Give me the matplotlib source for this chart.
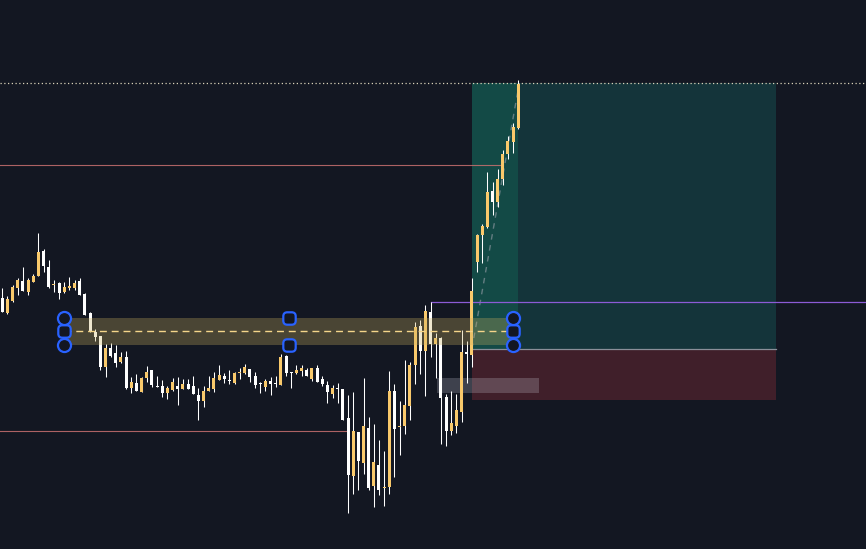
import matplotlib
matplotlib.use("Agg")
import matplotlib.pyplot as plt
import numpy as np
from matplotlib.path import Path
from matplotlib.patches import BoxStyle, Rectangle

# ---------------- data (price units) ----------------
opens = [251.3, 235.7, 248, 260.7, 268, 257.3, 267.3, 273.3, 298, 281.7,
         264, 265.7, 257.3, 261.3, 260.7, 268, 255, 236.3, 217.3, 213,
         182.3, 201.3, 196.3, 187.3, 192.3, 161.3, 165.7, 157.3, 170.7, 179,
         163.3, 163, 156.3, 159, 163, 160, 165, 163, 154, 148,
         158, 160, 169, 173, 169, 166.3, 176.3, 175.7, 179.7, 173,
         165.7, 162.3, 168, 165.7, 164, 193, 176.7, 175.7, 178.3, 179,
         170, 181.3, 170, 164, 155, 161.3, 160, 131.3, 73, 116.7,
         86.3, 121.3, 63, 84, 61, 62.3, 158, 122.3, 123, 143,
         184, 223, 198, 236.7, 204.7, 211.3, 152.3, 118, 123.3, 137.3,
         197.3, 194, 287.3, 314, 322.3, 358, 347.3, 370, 395, 407.3,
         420.7]
highs = [261.3, 253, 264, 271.3, 282, 270.7, 275, 315.7, 300, 289,
         269, 267.3, 267.3, 271.7, 269, 271.3, 256.3, 237.3, 219.7, 213,
         205, 205.7, 204, 197.3, 198, 171.7, 175, 172.3, 183, 179,
         173, 169, 163, 170.7, 172.3, 169.7, 169.7, 173, 160.7, 163,
         173, 177.3, 184, 176.3, 179, 177.3, 180.7, 185, 179.7, 177.3,
         166.7, 169.7, 172.3, 173, 195, 194, 176.7, 184, 184, 181.3,
         181.3, 184, 173, 168.3, 164, 166.3, 160, 154, 156.7, 116.7,
         170.7, 131.7, 124.7, 109, 98, 178, 165, 148, 189, 187.3,
         227.3, 229, 244, 246.7, 215.7, 212.3, 155, 158, 154.7, 219,
         208, 271.3, 314.7, 324.7, 376.7, 366.7, 380, 399, 413, 425.7,
         469]
lows = [236.7, 234.7, 247.3, 254, 258.3, 254, 267.3, 273.3, 277.3, 260.7,
        257.3, 250, 256.3, 259.3, 259, 254, 234, 217.3, 208.3, 179,
        172.3, 191.7, 182.3, 185.7, 159.7, 155.7, 158.3, 157.3, 167.3, 161.7,
        161.7, 152.3, 149.7, 158.3, 144, 159.7, 160, 155, 129, 142.3,
        158, 157.3, 169, 165.7, 164.7, 165, 170, 174.7, 167.3, 160.7,
        155.7, 158.3, 154, 162.3, 164, 173.3, 161.3, 175, 173.3, 173,
        168.3, 167.3, 163, 145.7, 150.7, 146.3, 129, 36.3, 55, 59,
        75, 59, 42.3, 54, 43, 55, 72.3, 94, 115, 129,
        165, 174.7, 153, 192.3, 171.3, 105, 103, 114, 116.3, 127.3,
        166.3, 182.3, 276.7, 285.7, 321.3, 334, 342.3, 364, 389.7, 396.3,
        420]
closes = [236.7, 250, 262.3, 269, 258.3, 269, 273, 297.3, 283.3, 262,
          265, 256.3, 262.3, 263, 266.3, 254, 234, 217.3, 211.7, 182.3,
          201.3, 193, 185.7, 192.3, 160.7, 167, 158.3, 171.3, 177.3, 164,
          162.3, 155.7, 160.7, 167.3, 160, 165, 160, 155, 148, 158,
          161.3, 171.3, 174, 170, 168, 175.7, 177.3, 181.7, 171.7, 164,
          164.7, 168, 165, 164.7, 192.3, 175.7, 175.7, 179, 181.3, 173,
          181.3, 167.3, 165, 157.3, 161.3, 160.3, 129, 74, 118, 88,
          123, 60.7, 87, 59, 62, 158, 119.7, 123.3, 144, 184,
          221.7, 198.3, 238, 204.7, 210.7, 151.3, 118, 125.7, 139, 196.7,
          195.3, 258, 314, 323, 357.3, 347.3, 370, 395, 408, 422.3,
          465]

# drawing tools (prices / bar indices)
zone_top, zone_mid, zone_bottom = 231.3, 218.0, 204.0
zone_start, zone_anchor, zone_end = 12, 55.5, 99
pos_start, pos_live_end, pos_end = 91, 100, 150
pos_entry, pos_target, pos_stop = 200.0, 466.0, 149.0
level_hi, level_hi_end = 384.0, 96.8
level_lo, level_lo_end = 118.0, 66.8
purple_level, purple_start = 247.0, 83
box_x0, box_x1, box_lo, box_hi = 84.2, 104.0, 156.0, 171.0
path_start = (91, 200.0)
path_end = (100.2, 466.0)

# ---------------- style ----------------
BG = "#131722"
UP = "#f9c96b"
DN = "#ffffff"
BLUE = "#2962ff"

fig = plt.figure(figsize=(8.66, 5.49), dpi=100, facecolor=BG)
ax = fig.add_axes([0, 0, 1, 1], facecolor=BG)
step = 5.16
x0px = 2.3
ax.set_xlim(-x0px / step, (866 - x0px) / step)
ax.set_ylim(0, 549)
ax.axis("off")

n = len(opens)
x = np.arange(n)
o = np.array(opens); c = np.array(closes)
h = np.array(highs); l = np.array(lows)
up = c >= o

# position tool
ax.add_patch(Rectangle((pos_start, pos_entry), pos_end - pos_start, pos_target - pos_entry,
                       facecolor="#14343a", edgecolor="none", zorder=1))
ax.add_patch(Rectangle((pos_start, pos_entry), pos_live_end - pos_start, pos_target - pos_entry,
                       facecolor="#134a46", edgecolor="none", zorder=1.1))
ax.add_patch(Rectangle((pos_start, pos_stop), pos_end - pos_start, pos_entry - pos_stop,
                       facecolor="#401f2a", edgecolor="none", zorder=1))
ax.plot([pos_start, pos_end], [pos_entry, pos_entry], color="#8a8f99", lw=0.9, zorder=1.2)
ax.add_patch(Rectangle((box_x0, box_lo), box_x1 - box_x0, box_hi - box_lo,
                       facecolor="#d8dae6", alpha=0.22, edgecolor="none", zorder=1.3))
ax.plot([path_start[0], path_end[0]], [path_start[1], path_end[1]], color="#9aa0aa",
        lw=1.0, ls=(0, (4, 4)), alpha=0.6, zorder=1.4)

# horizontal lines
ax.axhline(pos_target, color="#d9d2b8", lw=0.9, ls=(0, (1, 2)), zorder=1.5)
xl = ax.get_xlim()
ax.plot([xl[0], level_hi_end], [level_hi, level_hi], color="#c97070", lw=0.8, alpha=0.85, zorder=1.5)
ax.plot([xl[0], level_lo_end], [level_lo, level_lo], color="#c97070", lw=0.8, alpha=0.85, zorder=1.5)
ax.plot([purple_start, xl[1]], [purple_level, purple_level], color="#8c5bd6", lw=0.9, zorder=1.5)

# candles
ax.vlines(x, l, h, color="#ffffff", lw=0.75, zorder=2)
bw = 3.0 / step
body_lo = np.minimum(o, c)
body_h = np.maximum(np.abs(c - o), 0.9)
ax.bar(x[up], body_h[up], bottom=body_lo[up], width=bw, color=UP, edgecolor="none", zorder=3)
ax.bar(x[~up], body_h[~up], bottom=body_lo[~up], width=bw, color=DN, edgecolor="none", zorder=3)

# zone
ax.add_patch(Rectangle((zone_start, zone_bottom), zone_end - zone_start, zone_top - zone_bottom,
                       facecolor="#cab05e", alpha=0.3, edgecolor="none", zorder=4))
ax.plot([zone_start, zone_end], [zone_mid, zone_mid], color="#f5d58a", lw=1.0,
        ls=(0, (5, 3.5)), zorder=4.5)

# handles
rs = BoxStyle("Round", pad=0.0, rounding_size=0.32)
rpath = rs(-0.5, -0.5, 1.0, 1.0, 1.0)
rpath = Path(rpath.vertices, rpath.codes)
msz = 9.4
mew = 1.6
circ_pts = [(zone_start, zone_top), (zone_start, zone_bottom), (zone_end, zone_top), (zone_end, zone_bottom)]
sq_pts = [(zone_start, zone_mid), (zone_end, zone_mid), (zone_anchor, zone_top), (zone_anchor, zone_bottom)]
for px_, py_ in circ_pts:
    ax.plot([px_], [py_], marker="o", ms=msz, mfc=BG, mec=BLUE, mew=mew, zorder=6)
for px_, py_ in sq_pts:
    ax.plot([px_], [py_], marker=rpath, ms=msz * 0.95, mfc=BG, mec=BLUE, mew=mew, zorder=6)

fig.savefig("out.png", dpi=100, facecolor=BG)
